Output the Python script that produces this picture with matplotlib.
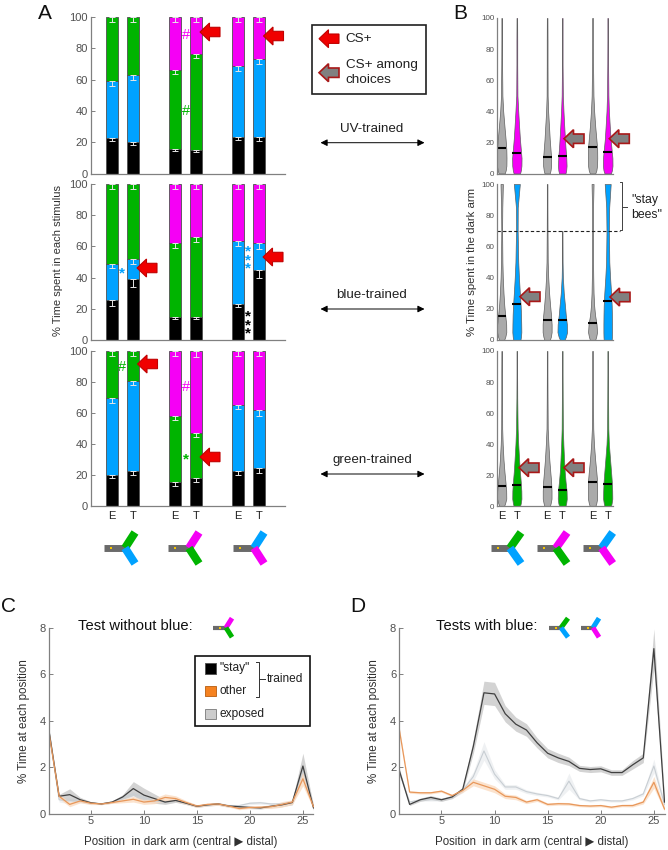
import numpy as np
from matplotlib import pyplot as plt
from matplotlib.patches import Polygon, Rectangle

plt.rcParams['font.family'] = ['Liberation Sans', 'DejaVu Sans']

# colours
black = '#000000'
blue = '#00a2ff'
green = '#00b400'
magenta = '#f500f5'
gray = '#aaaaaa'
tick_col = '#505050'
axis_col = '#808080'

# panel A: % time per stimulus, rows = UV / blue / green trained
bar_pos = [0, 1, 3, 4, 6, 7]
bar_mid_colors = [blue, blue, green, green, blue, blue]
bar_top_colors = [green, green, magenta, magenta, magenta, magenta]

uv_black = [22.5, 20, 15.5, 15, 23.5, 23.5]
uv_mid = [36.5, 43, 50.5, 61.5, 45, 49.5]
uv_top = [41, 37, 34, 23.5, 31.5, 27]
blue_black = [25.5, 39, 15, 15, 23, 45]
blue_mid = [23, 13, 47, 51, 40.5, 17]
blue_top = [51.5, 48, 38, 34, 36.5, 38]
green_black = [20.5, 23, 15.5, 18.5, 23, 24.5]
green_mid = [49, 58, 43, 29, 42.5, 37.5]
green_top = [30.5, 19, 41.5, 52.5, 34.5, 38]

uv_err = [[2, 1.5, 1, 1.5, 2, 2.5], [3, 3.5, 2.5, 2.5, 3, 3], [3.5, 3.5, 3.5, 3, 3.5, 3.5]]
blue_err = [[3.5, 5, 1.5, 1.5, 2, 5], [2.5, 3, 3, 3, 3.5, 3.5], [3, 3, 3, 3, 3, 3.5]]
green_err = [[2, 2.5, 2, 3, 2.5, 3], [3, 3, 3, 3, 3, 3.5], [3, 3, 3.5, 4, 3.5, 3.5]]

bar_rows = [(uv_black, uv_mid, uv_top, uv_err),
            (blue_black, blue_mid, blue_top, blue_err),
            (green_black, green_mid, green_top, green_err)]

# panel B: violin outlines, half width in pixels at each level
vio_levels = [0, 2, 5, 10, 16, 22, 30, 40, 50, 70, 85, 100]
uv_violins = [[3, 4, 4.7, 4.8, 4.6, 3.9, 2.8, 1.5, .7, .4, .3, .3],
              [3.2, 4, 4.6, 4.7, 3.9, 3.1, 2.3, 1.4, .6, .4, .4, .3],
              [2.6, 3.4, 4, 4, 3.3, 2.6, 1.9, 1, .5, .4, .4, .3],
              [3.2, 3.9, 4.3, 4, 3.3, 2.7, 2, 1.2, .6, .3, .3, .3],
              [2.7, 3.8, 4.5, 4.7, 4.6, 3.8, 2.7, 1.6, .9, .5, .4, .4],
              [3.2, 4.2, 4.8, 4.7, 3.8, 2.9, 2.1, 1.2, .7, .4, .3, .3]]
blue_violins = [[2.4, 3.6, 4.6, 4.5, 3.5, 2.6, 1.8, 1.1, .7, .4, .6, 1.2],
                [3.6, 4.1, 4.5, 4.4, 4.2, 3.8, 3, 2.1, 1.4, .8, .9, 3],
                [2.7, 3.7, 4.5, 4.5, 3.9, 3, 2, 1.1, .6, .4, .3, .3],
                [2.2, 3.6, 4.8, 4.6, 3.5, 2.7, 1.5, .6, .3, .2, 0, 0],
                [2.6, 3.6, 4.5, 4, 2.5, 1.6, 1, .7, .5, .5, .5, 1],
                [4, 4.2, 4.3, 4.3, 4.2, 4, 3.4, 2.4, 1.6, 1.2, 1.5, 3]]
green_violins = [[2.2, 3.4, 4.6, 4.5, 3.7, 2.8, 1.8, 1, .5, .4, .4, .3],
                 [3.1, 3.9, 4.6, 4.5, 3.9, 3.1, 2.3, 1.4, .8, .4, .3, .3],
                 [2.7, 3.5, 4.4, 4.4, 4, 3.2, 2.2, 1.3, .6, .4, .3, .3],
                 [3.1, 3.9, 4.5, 4.3, 3.3, 2.5, 1.8, 1.1, .6, .4, .3, .3],
                 [2.7, 3.7, 4.6, 4.6, 4.6, 3.8, 2.6, 1.4, .7, .4, .4, .4],
                 [3.2, 3.9, 4.6, 4.5, 4.1, 3.4, 2.4, 1.2, .6, .4, .3, .3]]
uv_medians = [16.5, 13.5, 10.5, 11.3, 17, 14]
blue_medians = [15.5, 23, 13, 13, 11, 25]
green_medians = [13.5, 14, 12.5, 10.5, 16, 14.5]
vio_rows = [(uv_violins, uv_medians, magenta),
            (blue_violins, blue_medians, blue),
            (green_violins, green_medians, green)]
stay_cut = 70

# panels C and D: time at each position
positions = list(range(1, 27))
c_stay = [3.7, .75, .82, .6, .47, .42, .5, .72, 1.08, .8, .65, .5, .57, .45, .32, .38, .42, .33, .3, .27, .25, .32, .38, .48, 2.05, .25]
c_other = [3.6, .75, .4, .55, .45, .42, .48, .55, .62, .5, .55, .7, .65, .48, .33, .4, .42, .33, .22, .27, .28, .3, .4, .5, 1.5, .3]
c_exposed = [3.7, .6, .55, .55, .45, .43, .5, .68, .85, .7, .55, .5, .55, .45, .33, .38, .42, .35, .35, .45, .47, .42, .42, .5, 1.9, .3]
c_stay_band = [.1, .08, .25, .1, .05, .03, .05, .1, .3, .3, .2, .1, .08, .06, .05, .05, .06, .05, .05, .05, .05, .06, .08, .1, .55, .1]
c_other_band = [.1, .1, .1, .08, .06, .03, .04, .08, .12, .1, .12, .15, .12, .08, .06, .06, .06, .05, .05, .05, .05, .08, .12, .1, .3, .1]
c_exposed_band = [.1, .1, .12, .08, .05, .03, .05, .08, .12, .1, .08, .06, .06, .05, .05, .05, .05, .05, .05, .06, .06, .05, .05, .06, .3, .1]

d_stay = [1.9, .4, .6, .7, .6, .72, 1.05, 2.9, 5.2, 5.15, 4.3, 3.85, 3.6, 3.05, 2.6, 2.4, 2.25, 1.95, 1.9, 1.93, 1.77, 1.77, 2.1, 2.4, 7.1, .5]
d_other = [3.7, .93, .9, .9, .97, .78, 1.0, 1.35, 1.2, 1.05, .75, .7, .5, .6, .4, .43, .42, .35, .33, .35, .28, .35, .35, .5, 1.35, .2]
d_exposed = [1.8, .5, .6, .6, .6, .7, 1.0, 1.6, 2.7, 1.7, 1.15, 1.15, .95, .85, .78, .65, 1.4, .65, .55, .6, .55, .55, .65, .85, 2.05, .4]
d_stay_band = [.1, .05, .07, .08, .07, .07, .1, .3, .5, .5, .35, .3, .27, .22, .2, .2, .18, .13, .13, .13, .12, .12, .18, .2, .85, .2]
d_other_band = [.1, .05, .05, .05, .05, .05, .08, .15, .15, .15, .1, .1, .07, .07, .06, .06, .06, .05, .05, .05, .05, .05, .06, .08, .25, .08]
d_exposed_band = [.1, .05, .06, .06, .06, .06, .1, .2, .4, .2, .1, .1, .08, .07, .06, .06, .35, .06, .05, .05, .05, .05, .06, .08, .3, .08]

fig = plt.figure(figsize=(6.68, 8.5), dpi=100)
W, H = 668.0, 850.0


def px_axes(l, t, r, b):
    return fig.add_axes([l / W, 1 - b / H, (r - l) / W, (b - t) / H])


def style_axes(ax, size):
    for s in ['top', 'right']:
        ax.spines[s].set_visible(False)
    for s in ['left', 'bottom']:
        ax.spines[s].set_color(axis_col)
        ax.spines[s].set_linewidth(0.9)
    ax.tick_params(direction='in', length=3, width=0.7, color=axis_col,
                   labelsize=size, labelcolor=tick_col, pad=2)


# panel A bars
a_tops = [17, 184, 351]
a_bottoms = [173.5, 340, 506.5]
for r in range(3):
    ax = px_axes(90.5, a_tops[r], 285, a_bottoms[r])
    low, mid, top, err = bar_rows[r]
    low, mid, top = np.array(low), np.array(mid), np.array(top)
    ax.bar(bar_pos, low, 0.6, color=black, edgecolor='#505050', linewidth=0.6)
    ax.bar(bar_pos, mid, 0.6, bottom=low, color=bar_mid_colors, edgecolor='#505050', linewidth=0.6)
    ax.bar(bar_pos, top, 0.6, bottom=low + mid, color=bar_top_colors, edgecolor='#505050', linewidth=0.6)
    for level, e in zip([low, low + mid, low + mid + top], err):
        ax.errorbar(bar_pos, level, yerr=[e, np.zeros(6)], fmt='none', ecolor='#e6e6e6',
                    elinewidth=0.7, capsize=2.4, capthick=0.7)
    ax.set_xlim(-1.02, 8.24)
    ax.set_ylim(0, 100)
    ax.set_yticks([0, 20, 40, 60, 80, 100])
    style_axes(ax, 8)
    if r == 2:
        ax.set_xticks(bar_pos)
        ax.set_xticklabels(['E', 'T'] * 3, fontsize=8, color='#202020')
        ax.tick_params(axis='x', length=0, pad=3.5)
    else:
        ax.set_xticks([])

# panel B violins
b_tops = [18, 184, 351]
b_bottoms = [173.5, 340, 506.5]
spacing = 15.15
for r in range(3):
    ax = px_axes(496.7, b_tops[r], 612.7, b_bottoms[r])
    widths, medians, col = vio_rows[r]
    for i, p in enumerate(bar_pos):
        hw = np.array(widths[i]) / spacing
        lev = np.array(vio_levels)
        keep = hw > 0
        hw, lev = hw[keep], lev[keep]
        fc = gray if i % 2 == 0 else col
        ax.fill_betweenx(lev, p - hw, p + hw, facecolor=fc, edgecolor='#606060', linewidth=0.5)
        ax.plot([p - 0.3, p + 0.3], [medians[i], medians[i]], color='k', lw=1.5, solid_capstyle='butt')
    ax.set_xlim(-0.33, 7.33)
    ax.set_ylim(0, 100)
    ax.set_yticks([0, 20, 40, 60, 80, 100])
    style_axes(ax, 5.8)
    ax.tick_params(length=0, pad=1.5)
    if r == 1:
        ax.plot([-0.33, 7.81], [stay_cut, stay_cut], color='#202020', lw=0.8, ls=(0, (3, 2)), clip_on=False)
    if r == 2:
        ax.set_xticks(bar_pos)
        ax.set_xticklabels(['E', 'T'] * 3, fontsize=8, color='#202020')
        ax.tick_params(axis='x', length=0, pad=3)
    else:
        ax.set_xticks([])

# panels C, D lines
line_sets = [(48.5, 313.5, c_stay, c_other, c_exposed, c_stay_band, c_other_band, c_exposed_band),
             (399, 664.5, d_stay, d_other, d_exposed, d_stay_band, d_other_band, d_exposed_band)]
for l, rr, st, ot, ex, stb, otb, exb in line_sets:
    ax = px_axes(l, 627.7, rr, 813.7)
    x = np.array(positions)
    for vals, band, col in [(ex, exb, '#eceef0'), (st, stb, '#c8c8c8'), (ot, otb, '#fbdcc2')]:
        vals, band = np.array(vals), np.array(band)
        ax.fill_between(x, vals - band, vals + band, color=col, alpha=0.8, linewidth=0)
    ax.plot(x, ex, color='#c8ced3', lw=0.8)
    ax.plot(x, st, color='#404040', lw=0.9)
    ax.plot(x, ot, color='#e8975a', lw=0.9)
    ax.set_xlim(1, 26)
    ax.set_ylim(0, 8)
    ax.set_xticks([5, 10, 15, 20, 25])
    ax.set_yticks([0, 2, 4, 6, 8])
    style_axes(ax, 8)
    ax.set_xlabel('Position  in dark arm (central \u25b6 distal)', fontsize=8.3, color='#303030', labelpad=7)
    ax.set_ylabel('% Time at each position', fontsize=8.4, color='#303030', labelpad=7)

# everything else sits on a pixel-coordinate overlay
ov = fig.add_axes([0, 0, 1, 1], zorder=10)
ov.set_xlim(0, W)
ov.set_ylim(H, 0)
ov.axis('off')
ov.patch.set_alpha(0)


def left_arrow(tip_x, y, face, edge, lw=0.8):
    pts = [(tip_x, y), (tip_x + 9.5, y - 9), (tip_x + 9.5, y - 4.7), (tip_x + 20, y - 4.7),
           (tip_x + 20, y + 4.7), (tip_x + 9.5, y + 4.7), (tip_x + 9.5, y + 9)]
    ov.add_patch(Polygon(pts, closed=True, facecolor=face, edgecolor=edge, linewidth=lw))


red_tips = [(200, 32), (263.5, 36), (137, 268), (263, 257), (137.5, 364), (200, 457), (319, 38.7)]
gray_tips = [(564, 138.7), (609.3, 138.7), (520, 296.7), (610, 297), (519, 467.7), (564, 467.7), (319, 72.7)]
for tx, ty in red_tips:
    left_arrow(tx, ty, '#f00000', '#c00000')
for tx, ty in gray_tips:
    left_arrow(tx, ty, '#808080', '#a81818', lw=1.2)


def y_icon(x0, xj, xe, yc, up, down, lw=5.8, stem=5, dy=15.5, dot=True):
    ov.plot([x0, xj], [yc, yc], color='#6a6a6a', lw=stem, solid_capstyle='butt')
    ov.plot([xj - 1, xe], [yc, yc - dy], color=up, lw=lw, solid_capstyle='butt')
    ov.plot([xj - 1, xe], [yc, yc + dy], color=down, lw=lw, solid_capstyle='butt')
    if dot:
        ov.plot([x0 + 7], [yc], 's', color='#f5c400', ms=1.8, mew=0)


for x0, up, down in [(104, green, blue), (168, magenta, green), (233, blue, magenta)]:
    y_icon(x0, x0 + 22, x0 + 31, 548, up, down)
for x0, up, down in [(491, green, blue), (537, magenta, green), (582.7, blue, magenta)]:
    y_icon(x0, x0 + 20, x0 + 30, 548, up, down)
y_icon(213, 227, 232, 627.7, magenta, green, lw=3.6, stem=3, dy=9.5)
y_icon(549, 562, 568, 627.7, green, blue, lw=3.6, stem=3, dy=9.5)
y_icon(580.7, 594, 599, 627.7, blue, magenta, lw=3.6, stem=3, dy=9.5)

# panel letters and row labels
for txt, x, y in [('A', 45, 13), ('B', 460, 13), ('C', 9, 606), ('D', 358, 606)]:
    ov.text(x, y, txt, fontsize=15, ha='center', va='center', color='#101010')
ov.text(58, 260, '% Time spent in each stimulus', rotation=90, fontsize=8, ha='center', va='center', color='#303030')
ov.text(472, 262, '% Time spent in the dark arm', rotation=90, fontsize=8.2, ha='center', va='center', color='#303030')

for label, ty in [('UV-trained', 128.7), ('blue-trained', 295), ('green-trained', 460)]:
    ov.text(372, ty, label, fontsize=9.6, ha='center', va='center', color='#202020')
    ov.annotate('', xy=(320.5, ty + 14), xytext=(424.5, ty + 14),
                arrowprops=dict(arrowstyle='<|-|>', color='k', lw=0.7, mutation_scale=10, shrinkA=0, shrinkB=0))

# significance marks, y is the middle of the mark
marks = [('#', 185.5, 33, magenta), ('#', 185.5, 109, green), ('#', 122, 365, green), ('#', 185.5, 385, magenta),
         ('*', 122, 271, blue), ('*', 185.5, 457, green), ('*\n*\n*', 247.7, 258, blue), ('*\n*\n*', 248, 323, 'k')]
for m, x, y, col in marks:
    if m == '#':
        ov.text(x, y, m, fontsize=10.5, ha='center', va='center_baseline', color=col)
    else:
        ov.text(x, y + 2, m, fontsize=11, fontweight='bold', ha='center', va='center', color=col, linespacing=0.46)

# arrow legend box
ov.add_patch(Rectangle((312, 24.7), 114, 69.5, fill=False, edgecolor='#202020', lw=1.2))
ov.text(345.5, 38.7, 'CS+', fontsize=9.7, va='center', color='#202020')
ov.text(345.5, 72.5, 'CS+ among\nchoices', fontsize=9.7, va='center', color='#202020', linespacing=1.4)

# stay bees bracket
ov.plot([620, 622, 622, 620], [182, 182, 230, 230], color='#404040', lw=0.7)
ov.plot([622, 627], [206.5, 206.5], color='#404040', lw=0.7)
ov.text(631, 207.5, '"stay\nbees"', fontsize=8.8, va='center', color='#202020', linespacing=1.3)

# C and D titles
ov.text(78, 626, 'Test without blue:', fontsize=10.6, va='center', color='#101010')
ov.text(436, 626, 'Tests with blue:', fontsize=10.6, va='center', color='#101010')

# line legend box
ov.add_patch(Rectangle((195, 656), 115, 69.7, facecolor='white', edgecolor='#101010', lw=1.2))
for yc, fc, ec, lab in [(668.5, '#000000', '#555555', '"stay"'), (691, '#f58220', '#c06a20', 'other'),
                        (714, '#cccccc', '#888888', 'exposed')]:
    ov.add_patch(Rectangle((205, yc - 5.3), 11, 10.6, facecolor=fc, edgecolor=ec, lw=0.7))
    ov.text(220, yc, lab, fontsize=8.6, va='center', color='#202020')
ov.plot([256, 258.7, 258.7, 256], [661.7, 661.7, 697, 697], color='#303030', lw=0.7)
ov.plot([258.7, 264.5], [679, 679], color='#303030', lw=0.7)
ov.text(267, 679, 'trained', fontsize=8.6, va='center', color='#202020')

fig.savefig('out.png', dpi=100)
